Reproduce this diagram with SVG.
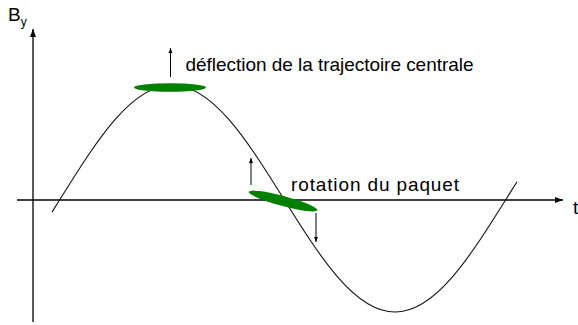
<svg xmlns="http://www.w3.org/2000/svg" width="578" height="325" viewBox="0 0 578 325">
<style>
.axis{stroke:#000;stroke-width:1.3;fill:none}
.curve{stroke:#111;stroke-width:1.1;fill:none}
.arr{stroke:#000;stroke-width:1;fill:none}
.lbl{font-family:"Liberation Sans",Arial,sans-serif;font-size:19px;fill:#000}
.blob{fill:#008000}
</style>
<defs>
<marker id="ah" markerWidth="8" markerHeight="6" refX="8" refY="3" orient="auto" markerUnits="userSpaceOnUse">
<path d="M0,0 L8,3 L0,6 Z" fill="#000"/>
</marker>
<marker id="sh" markerWidth="5" markerHeight="5" refX="5" refY="2.5" orient="auto" markerUnits="userSpaceOnUse">
<path d="M0,0.5 L5,2.5 L0,4.5 Z" fill="#000"/>
</marker>
</defs>
<g id="axes">
<line class="axis" x1="33" y1="322" x2="33" y2="29" marker-end="url(#ah)"/>
<line class="axis" x1="17" y1="200" x2="563" y2="200" marker-end="url(#ah)"/>
<text class="lbl" x="8" y="21" font-size="17">B<tspan font-size="12" dy="5">y</tspan></text>
<text class="lbl" x="573" y="214">t</text>
</g>
<g id="curve">
<path class="curve" d="M52,212.1 L60.5,198.5 C96.86,140.35 131.65,85 172,85 C212.35,85 247.14,140.35 283.5,198.5 C319.86,256.65 354.65,312 395,312 C435.35,312 470.14,256.65 506.5,198.5 L517,181.7"/>
</g>
<g id="connectors">
<line class="arr" x1="170.5" y1="77" x2="170.5" y2="48" marker-end="url(#sh)"/>
<line class="arr" x1="251" y1="185" x2="251" y2="158" marker-end="url(#sh)"/>
<line class="arr" x1="316" y1="213" x2="316" y2="242" marker-end="url(#sh)"/>
</g>
<g id="deflection">
<ellipse class="blob" cx="170" cy="87.5" rx="36" ry="4.3"/>
<text class="lbl" x="185.5" y="71" textLength="288" lengthAdjust="spacing">déflection de la trajectoire centrale</text>
</g>
<g id="rotation">
<ellipse class="blob" cx="283" cy="201" rx="35.5" ry="5" transform="rotate(15 283 201)"/>
<text class="lbl" x="291" y="190.5" font-size="20" textLength="168" lengthAdjust="spacing">rotation du paquet</text>
</g>
</svg>
